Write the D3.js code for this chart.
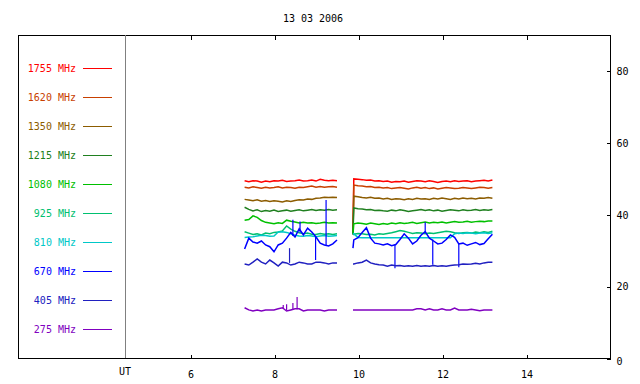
<!DOCTYPE html>
<html>
<head>
    <meta charset="utf-8">
    <script src="https://d3js.org/d3.v7.min.js"></script>
    <style>
        body { margin: 0; background: #fff; }
        text { font-family: "DejaVu Sans Mono", monospace; font-size: 10px; }
    </style>
</head>
<body>
<script>
    // radio flux, 13 03 2006
    const title = "13 03 2006";
    const freqLabels = ["1755 MHz", "1620 MHz", "1350 MHz", "1215 MHz", "1080 MHz",
                        "925 MHz", "810 MHz", "670 MHz", "405 MHz", "275 MHz"];
    const colors = ["#ff0000", "#c84000", "#8c5c00", "#208020", "#00c000",
                    "#00c070", "#00c8c8", "#0000ff", "#2020c0", "#8000c0"];
    const hourTicks = [6, 8, 10, 12, 14];
    const valueTicks = [0, 20, 40, 60, 80];

    const seg1Hours = [7.3, 7.4, 7.5, 7.6, 7.7, 7.8, 7.9, 8.0, 8.1, 8.2, 8.3, 8.4, 8.5, 8.6, 8.7, 8.8, 8.9,
                       9.0, 9.1, 9.2, 9.3, 9.4, 9.5];
    const seg2Hours = [9.88, 9.9, 10.0, 10.1, 10.2, 10.3, 10.4, 10.5, 10.6, 10.7, 10.8, 10.9,
                       11.0, 11.1, 11.2, 11.3, 11.4, 11.5, 11.6, 11.7, 11.8, 11.9,
                       12.0, 12.1, 12.2, 12.3, 12.4, 12.5, 12.6, 12.7, 12.8, 12.9, 13.0, 13.1, 13.2];

    const f1755a = [49.4,49.1,49.4,49.3,49.0,49.3,49.1,49.4,49.3,49.5,49.2,49.3,49.4,49.6,49.3,49.4,49.6,49.3,49.8,49.5,49.4,49.5,49.4];
    const f1755b = [34.5,49.9,49.8,49.7,49.5,49.6,49.3,49.4,49.2,49.3,49.0,49.2,49.1,49.3,49.0,49.2,49.4,49.3,49.1,49.4,49.2,48.9,49.2,49.3,49.1,49.4,49.2,49.3,49.4,49.1,49.3,49.4,49.5,49.3,49.6];
    const f1620a = [47.6,47.4,47.7,47.5,47.3,47.6,47.4,47.5,47.7,47.4,47.6,47.5,47.3,47.6,47.5,47.7,47.9,47.6,47.8,47.6,47.7,47.8,47.6];
    const f1620b = [34.5,48.2,48.0,47.9,47.7,47.8,47.5,47.6,47.4,47.5,47.2,47.4,47.5,47.3,47.1,47.4,47.6,47.3,47.5,47.2,47.4,47.1,47.3,47.5,47.4,47.2,47.3,47.5,47.4,47.2,47.4,47.6,47.5,47.3,47.5];
    const f1350a = [44.2,44.0,43.8,44.1,43.7,43.9,43.6,43.8,43.7,43.5,43.8,43.6,43.9,44.1,44.0,44.3,44.2,44.5,44.6,44.8,44.7,44.8,44.7];
    const f1350b = [34.5,45.1,44.9,44.7,44.6,44.8,44.5,44.6,44.3,44.5,44.2,44.4,44.3,44.1,44.4,44.2,44.5,44.3,44.4,44.2,44.5,44.3,44.6,44.4,44.2,44.5,44.3,44.6,44.4,44.5,44.3,44.6,44.5,44.7,44.5];
    const f1215a = [42.0,41.4,41.0,41.3,40.8,41.1,40.9,41.2,40.8,41.0,41.2,40.9,41.1,41.3,41.0,41.2,41.4,41.1,41.3,41.2,41.4,41.2,41.3];
    const f1215b = [34.5,41.8,41.6,41.5,41.3,41.4,41.1,41.2,41.0,40.9,41.2,41.0,41.3,41.1,40.8,41.0,41.2,41.4,41.1,41.3,41.0,41.2,40.9,41.1,41.3,41.2,41.0,41.3,41.1,41.2,41.4,41.1,41.3,41.2,41.4];
    const f1080a = [38.4,38.6,39.6,39.2,38.3,37.8,37.6,37.4,37.7,37.5,38.4,38.1,37.9,37.6,37.8,37.6,37.7,37.5,37.6,37.8,37.6,37.7,37.6];
    const f1080b = [34.5,37.4,37.6,37.5,37.3,37.6,37.4,37.2,37.5,37.3,37.6,37.4,37.7,37.5,37.6,37.8,37.5,37.7,37.9,37.6,37.8,37.7,37.9,37.6,37.8,38.0,37.8,37.9,38.1,37.8,38.0,38.1,38.0,38.2,38.2];
    const f925a = [35.2,34.8,34.4,34.6,34.3,34.8,34.6,35.0,35.1,35.4,36.8,35.9,35.3,34.9,34.6,34.8,34.5,34.4,34.7,34.5,34.6,34.4,34.6];
    const f925b = [34.3,34.5,34.7,34.6,34.4,34.5,34.3,34.6,34.5,34.7,34.9,35.2,35.5,35.3,35.0,34.7,34.9,34.8,34.6,34.8,34.7,34.9,35.1,35.3,35.2,34.9,34.7,34.9,35.0,34.8,35.1,34.9,35.2,35.0,35.3];
    const f810a = [33.6,33.7,33.8,34.0,34.2,34.1,33.9,34.0,35.1,35.2,35.0,34.6,34.2,34.0,33.9,34.1,34.0,33.8,34.0,34.1,33.9,34.0,34.1];
    const f810b = [34.8,34.6,33.6,33.5,33.5,33.5,33.5,33.5,33.5,33.5,33.5,33.5,33.5,33.5,33.5,33.5,33.5,33.5,33.5,33.5,33.5,33.5,33.5,33.5,33.5,34.6,34.8,34.7,34.9,34.8,34.6,34.8,34.9,34.7,34.9];
    const f670a = [30.4,33.4,32.3,32.0,32.6,31.5,31.0,29.6,31.5,32.0,33.4,35.0,33.7,36.0,34.3,36.2,35.1,33.7,32.0,31.5,31.2,31.8,32.9];
    const f670b = [30.6,32.9,33.5,35.0,36.3,33.4,32.0,31.8,31.5,31.8,31.3,31.6,33.0,34.6,33.4,31.8,32.6,34.2,35.2,33.4,32.6,31.8,32.0,33.0,34.3,33.6,31.8,32.0,31.4,31.8,32.2,31.6,31.9,33.2,34.5];
    const f405a = [26.2,25.9,26.7,27.6,26.7,26.2,27.3,26.5,25.6,26.7,26.5,25.9,26.2,26.7,26.5,26.2,26.2,26.7,26.7,26.5,26.2,26.5,26.5];
    const f405b = [26.2,26.2,26.5,26.7,27.3,26.5,26.2,26.0,25.9,25.6,25.9,25.7,25.8,25.6,25.7,25.6,25.8,25.6,25.7,25.6,25.8,25.6,25.7,25.6,25.8,25.9,26.0,26.2,26.1,26.2,26.4,26.2,26.5,26.7,26.7];
    const f275a = [14.0,13.4,13.1,13.4,13.1,13.4,13.4,13.4,13.7,14.0,13.1,13.4,13.7,13.7,13.1,13.4,13.4,13.4,13.4,13.1,13.4,13.4,13.4];
    const f275b = [13.4,13.4,13.4,13.4,13.4,13.4,13.4,13.4,13.4,13.4,13.4,13.4,13.4,13.4,13.4,13.4,13.7,13.7,13.4,13.7,13.4,13.4,13.7,13.4,13.4,13.9,13.4,13.4,13.4,13.6,13.4,13.2,13.4,13.4,13.4];

    // short spikes: [hour, from, to]
    const spikes670 = [[8.45, 34.0, 38.5], [8.62, 35.0, 38.0], [8.99, 33.7, 27.3], [9.24, 31.5, 44.0],
                       [10.88, 31.5, 25.0], [11.6, 35.2, 37.8], [11.78, 33.0, 26.0], [12.4, 31.8, 25.3]];
    const spikes405 = [[8.37, 26.5, 30.6]];
    const spikes275 = [[8.22, 13.7, 14.8], [8.3, 13.4, 15.0], [8.45, 13.5, 15.3], [8.55, 13.6, 17.0]];

    const seriesA = [f1755a, f1620a, f1350a, f1215a, f1080a, f925a, f810a, f670a, f405a, f275a];
    const seriesB = [f1755b, f1620b, f1350b, f1215b, f1080b, f925b, f810b, f670b, f405b, f275b];
    const spikesBy = {7: spikes670, 8: spikes405, 9: spikes275};

    const W = 640, H = 384;
    const mLeft = 18, mTop = 35, mRight = 610, mBottom = 358;

    const svg = d3.select("body").append("svg").attr("width", W).attr("height", H);

    const x = d3.scaleLinear().domain([6, 16]).range([190, mRight]);
    const y = d3.scaleLinear().domain([0, 90]).range([mBottom, mTop]);

    svg.append("text").attr("x", 313).attr("y", 22).attr("text-anchor", "middle").text(title);

    // frame + UT separator
    svg.append("rect").attr("x", mLeft + 0.5).attr("y", mTop + 0.5)
        .attr("width", mRight - mLeft).attr("height", mBottom - mTop)
        .attr("fill", "none").attr("stroke", "#000").attr("shape-rendering", "crispEdges");
    svg.append("line").attr("x1", 125.5).attr("x2", 125.5).attr("y1", mTop).attr("y2", mBottom)
        .attr("stroke", "#808080").attr("shape-rendering", "crispEdges");

    const gx = svg.append("g").attr("transform", `translate(0.5,${mBottom + 0.5})`)
        .call(d3.axisBottom(x).tickValues(hourTicks).tickSize(-4).tickPadding(12).tickFormat(d3.format("d")));
    gx.select(".domain").remove();
    gx.selectAll("text").style("font-family", "DejaVu Sans Mono").style("font-size", "10px");
    svg.append("text").attr("x", 125).attr("y", 375).attr("text-anchor", "middle").text("UT");

    const gt = svg.append("g").attr("transform", `translate(0.5,${mTop + 0.5})`)
        .call(d3.axisTop(x).tickValues(hourTicks).tickSize(-4).tickFormat(""));
    gt.select(".domain").remove();

    const gy = svg.append("g").attr("transform", `translate(${mRight + 0.5},0.5)`)
        .call(d3.axisRight(y).tickValues(valueTicks).tickSize(-4).tickPadding(6));
    gy.select(".domain").remove();
    gy.selectAll("text").style("font-family", "DejaVu Sans Mono").style("font-size", "10px");
    gy.selectAll(".tick").filter(d => d === 0).select("text").attr("dy", "0.6em");
    svg.selectAll(".tick line").attr("shape-rendering", "crispEdges");

    // legend
    const leg = svg.append("g");
    freqLabels.forEach((lab, i) => {
        const ly = 68 + i * 29;
        leg.append("text").attr("x", 76).attr("y", ly + 4).attr("text-anchor", "end")
            .attr("fill", colors[i]).text(lab);
        leg.append("line").attr("x1", 83).attr("x2", 112).attr("y1", ly + 0.5).attr("y2", ly + 0.5)
            .attr("stroke", colors[i]).attr("shape-rendering", "crispEdges");
    });

    const line = d3.line().x(d => x(d[0])).y(d => y(d[1]));
    const plot = svg.append("g");
    seriesA.forEach((vals, i) => {
        [[seg1Hours, vals], [seg2Hours, seriesB[i]]].forEach(([hrs, v]) => {
            const pts = v.map((d, j) => [hrs[j], d]).filter(p => p[0] !== undefined);
            plot.append("path").datum(pts).attr("d", line)
                .attr("fill", "none").attr("stroke", colors[i]).attr("stroke-width", 1.5);
        });
        (spikesBy[i] || []).forEach(s => {
            plot.append("line").attr("x1", x(s[0])).attr("x2", x(s[0]))
                .attr("y1", y(s[1])).attr("y2", y(s[2]))
                .attr("stroke", colors[i]).attr("stroke-width", 1.2);
        });
    });
</script>
</body>
</html>
